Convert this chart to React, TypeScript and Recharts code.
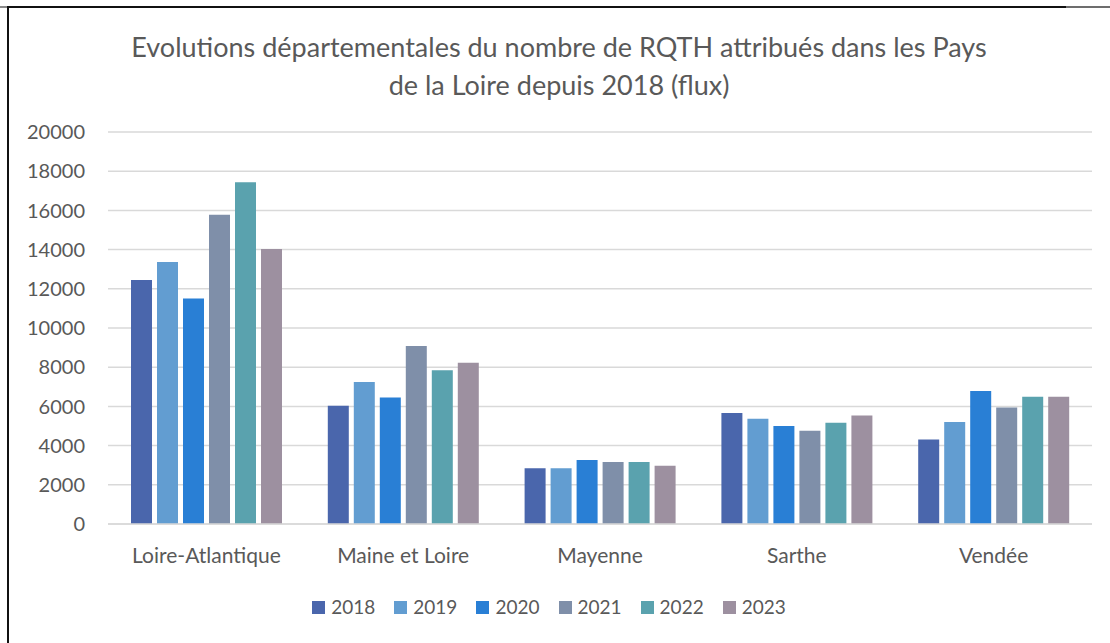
import React from 'react';
import { BarChart, Bar, XAxis, YAxis, CartesianGrid } from 'recharts';

const categories = ['Loire-Atlantique', 'Maine et Loire', 'Mayenne', 'Sarthe', 'Vendée'];
const years = ['2018', '2019', '2020', '2021', '2022', '2023'];
const values2018 = [12450, 6030, 2850, 5660, 4310];
const values2019 = [13370, 7250, 2850, 5370, 5200];
const values2020 = [11500, 6450, 3260, 5000, 6780];
const values2021 = [15780, 9080, 3160, 4760, 5950];
const values2022 = [17430, 7850, 3160, 5170, 6490];
const values2023 = [14030, 8230, 2970, 5530, 6490];
const seriesColors = ['#4A66AC', '#629DD1', '#297FD5', '#7F8FA9', '#5AA2AE', '#9D90A0'];
const yTicks = [0, 2000, 4000, 6000, 8000, 10000, 12000, 14000, 16000, 18000, 20000];
const titleLines = [
  'Evolutions départementales du nombre de RQTH attribués dans les Pays',
  'de la Loire depuis 2018 (flux)',
];

const allSeries = [values2018, values2019, values2020, values2021, values2022, values2023];
const data = categories.map((c, i) => {
  const row: Record<string, string | number> = { name: c };
  years.forEach((y, k) => {
    row[y] = allSeries[k][i];
  });
  return row;
});

const FONT = 'Lato, "Open Sans", sans-serif';
const TEXT = '#595959';

export default function App() {
  return (
    <div
      style={{
        position: 'absolute',
        left: 0,
        top: 0,
        width: 1110,
        height: 643,
        overflow: 'hidden',
        background: '#fff',
        fontFamily: FONT,
      }}
    >
      {/* frame */}
      <div style={{ position: 'absolute', left: 0, top: 6, width: 8, height: 2, background: '#8a8a8a' }} />
      <div style={{ position: 'absolute', left: 8, top: 6, width: 1058, height: 2, background: '#111' }} />
      <div style={{ position: 'absolute', left: 1066, top: 6, width: 44, height: 2, background: '#6d6d6d' }} />
      <div style={{ position: 'absolute', left: 7, top: 6, width: 2, height: 637, background: '#111' }} />

      {/* title */}
      <div
        style={{
          position: 'absolute',
          left: 0,
          top: 28,
          width: 1118,
          textAlign: 'center',
          color: TEXT,
          fontSize: 27,
          lineHeight: '38px',
        }}
      >
        {titleLines.map((t) => (
          <div key={t}>{t}</div>
        ))}
      </div>

      <div style={{ position: 'absolute', left: 0, top: 0 }}>
        <BarChart
          width={1110}
          height={643}
          data={data}
          margin={{ top: 132, right: 18, bottom: 87, left: 0 }}
          barGap={5}
          barSize={21}
        >
          <CartesianGrid vertical={false} stroke="#D9D9D9" strokeWidth={1.5} />
          <XAxis
            dataKey="name"
            height={32}
            tickLine={false}
            axisLine={{ stroke: '#D9D9D9', strokeWidth: 1.5 }}
            tickSize={0}
            tickMargin={24}
            tick={{ fill: TEXT, fontSize: 21, fontFamily: FONT }}
            interval={0}
          />
          <YAxis
            width={108}
            domain={[0, 20000]}
            ticks={yTicks}
            interval={0}
            axisLine={false}
            tickLine={false}
            tickSize={0}
            tickMargin={23}
            tick={{ fill: TEXT, fontSize: 20, fontFamily: FONT }}
          />
          {years.map((y, k) => (
            <Bar key={y} dataKey={y} fill={seriesColors[k]} isAnimationActive={false} />
          ))}
        </BarChart>
      </div>

      {/* legend */}
      <div
        style={{
          position: 'absolute',
          left: 0,
          top: 595,
          width: 1098,
          display: 'flex',
          justifyContent: 'center',
          alignItems: 'center',
          color: TEXT,
          fontSize: 19,
          lineHeight: '24px',
        }}
      >
        {years.map((y, k) => (
          <div key={y} style={{ display: 'flex', alignItems: 'center', marginRight: k < years.length - 1 ? 19 : 0 }}>
            <div style={{ width: 13, height: 13, background: seriesColors[k], marginRight: 6 }} />
            <span>{y}</span>
          </div>
        ))}
      </div>
    </div>
  );
}
